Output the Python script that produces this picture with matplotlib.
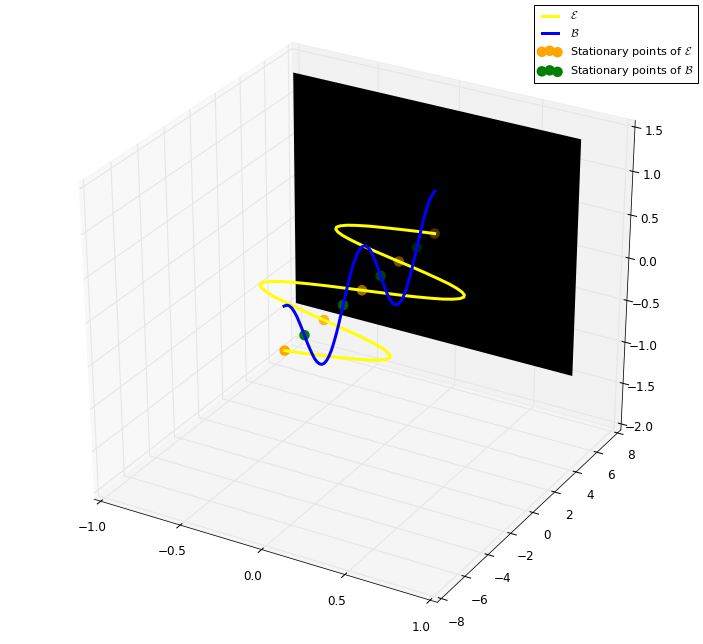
import matplotlib
matplotlib.use('Agg')
import matplotlib.pyplot as plt
import numpy as np
from matplotlib.lines import Line2D

plt.style.use('classic')
plt.rcParams['axes3d.automargin'] = True

y_curve = [-6.28, -6.09, -5.89, -5.69, -5.50, -5.30, -5.11, -4.91, -4.71, -4.52, -4.32, -4.12, -3.93, -3.73, -3.53, -3.34,
           -3.14, -2.95, -2.75, -2.55, -2.36, -2.16, -1.96, -1.77, -1.57, -1.37, -1.18, -0.98, -0.79, -0.59, -0.39, -0.20,
           0.00, 0.20, 0.39, 0.59, 0.79, 0.98, 1.18, 1.37, 1.57, 1.77, 1.96, 2.16, 2.36, 2.55, 2.75, 2.95,
           3.14, 3.34, 3.53, 3.73, 3.93, 4.12, 4.32, 4.52, 4.71, 4.91, 5.11, 5.30, 5.50, 5.69, 5.89, 6.09, 6.28]
x_e = [0.00, 0.098, 0.191, 0.278, 0.354, 0.416, 0.462, 0.490, 0.50, 0.490, 0.462, 0.416, 0.354, 0.278, 0.191, 0.098,
       0.00, -0.098, -0.191, -0.278, -0.354, -0.416, -0.462, -0.490, -0.50, -0.490, -0.462, -0.416, -0.354, -0.278, -0.191, -0.098,
       0.00, 0.098, 0.191, 0.278, 0.354, 0.416, 0.462, 0.490, 0.50, 0.490, 0.462, 0.416, 0.354, 0.278, 0.191, 0.098,
       0.00, -0.098, -0.191, -0.278, -0.354, -0.416, -0.462, -0.490, -0.50, -0.490, -0.462, -0.416, -0.354, -0.278, -0.191, -0.098, 0.00]
z_b = [0.50, 0.490, 0.462, 0.416, 0.354, 0.278, 0.191, 0.098, 0.00, -0.098, -0.191, -0.278, -0.354, -0.416, -0.462, -0.490,
       -0.50, -0.490, -0.462, -0.416, -0.354, -0.278, -0.191, -0.098, 0.00, 0.098, 0.191, 0.278, 0.354, 0.416, 0.462, 0.490,
       0.50, 0.490, 0.462, 0.416, 0.354, 0.278, 0.191, 0.098, 0.00, -0.098, -0.191, -0.278, -0.354, -0.416, -0.462, -0.490,
       -0.50, -0.490, -0.462, -0.416, -0.354, -0.278, -0.191, -0.098, 0.00, 0.098, 0.191, 0.278, 0.354, 0.416, 0.462, 0.490, 0.50]
y_stat_e = [-6.28, -3.14, 0.00, 3.14, 6.28]
y_stat_b = [-4.71, -1.57, 1.57, 4.71]
plane_x = [-1.015, 0.75]
plane_y = [8.0, 8.0]
plane_z = [-1.52, 1.27]
x_ticks = [-1.0, -0.5, 0.0, 0.5, 1.0]
y_ticks = [-8, -6, -4, -2, 0, 2, 4, 6, 8]
z_ticks = [-2.0, -1.5, -1.0, -0.5, 0.0, 0.5, 1.0, 1.5]

W, H, DPI = 703, 644, 72
fig = plt.figure(figsize=(W / DPI, H / DPI), dpi=DPI, facecolor='white')
RW, RH = 666, 607
cx, cy = 353, 320
ax = fig.add_axes([(cx - RW / 2) / W, 1 - (cy + RH / 2) / H, RW / W, RH / H],
                  projection='3d', computed_zorder=False)
ax.set_box_aspect((1, 1, 1))
ax.apply_aspect = lambda position=None: None

zero_e = [0.0] * len(y_curve)
px, pz = np.meshgrid(plane_x, plane_z)
py = np.full_like(px, plane_y[0])
ax.plot_surface(px, py, pz, color='black', shade=False, linewidth=0, antialiased=False, zorder=1)
ax.scatter([0.0] * len(y_stat_e), y_stat_e, [0.0] * len(y_stat_e), c='orange', s=110, edgecolors='none', zorder=2)
ax.scatter([0.0] * len(y_stat_b), y_stat_b, [0.0] * len(y_stat_b), c='green', s=110, edgecolors='none', zorder=2)
ax.plot(x_e, y_curve, zero_e, color='yellow', lw=3, zorder=3)
ax.plot(zero_e, y_curve, z_b, color='blue', lw=3, zorder=4)

ax.set_xlim(-1, 1)
ax.set_ylim(-8, 8)
ax.set_zlim(-2, 1.5)
ax.set_xticks(x_ticks)
ax.set_yticks(y_ticks)
ax.set_zticks(z_ticks)
ax.tick_params(labelsize=12)
ax.tick_params(axis='x', pad=6)
ax.tick_params(axis='y', pad=6)
for a in (ax.xaxis, ax.yaxis, ax.zaxis):
    a._axinfo['grid'].update(color=(0.9, 0.9, 0.9, 1), linewidth=1.1)

handles = [Line2D([], [], color='yellow', lw=3),
           Line2D([], [], color='blue', lw=3),
           ax.collections[1], ax.collections[2]]
labels = [r'$\mathcal{E}$', r'$\mathcal{B}$', r'Stationary points of $\mathcal{E}$', r'Stationary points of $\mathcal{B}$']
fig.legend(handles, labels, loc='upper right', bbox_to_anchor=(698 / W, 1 - 5 / H), borderaxespad=0,
           fontsize=11.2, scatterpoints=3, fancybox=False, framealpha=1)
fig.savefig('out.png', dpi=DPI)
